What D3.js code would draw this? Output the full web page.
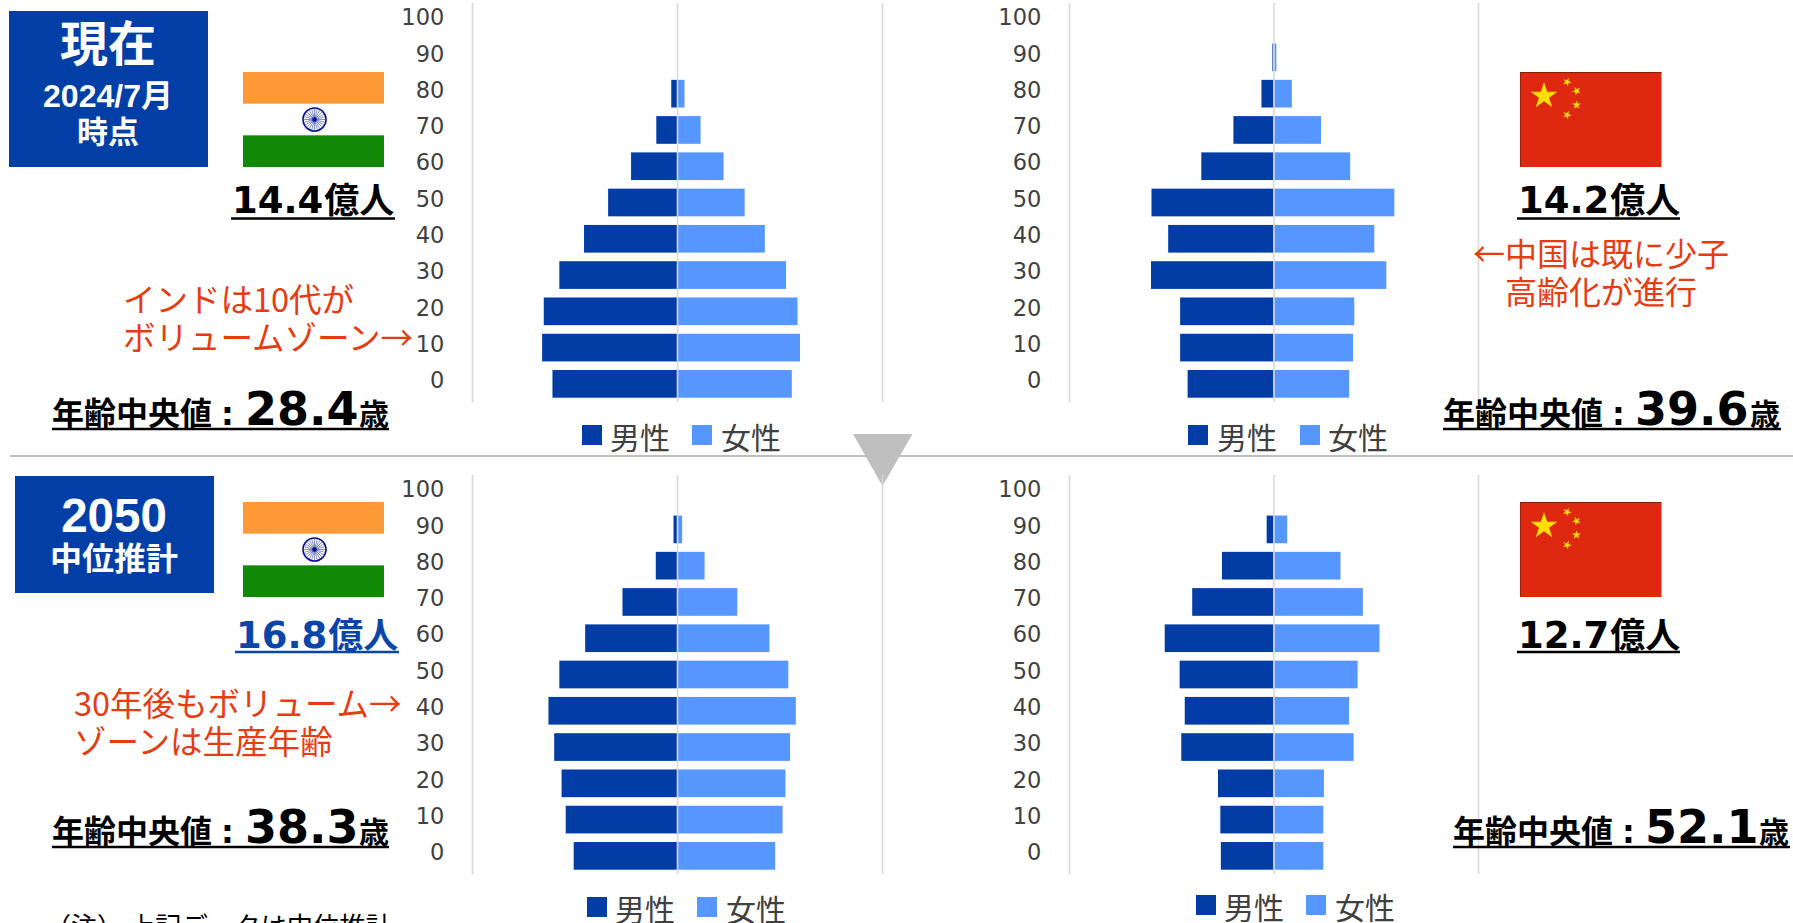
<!DOCTYPE html>
<html lang="ja"><head><meta charset="utf-8">
<script src="https://cdn.jsdelivr.net/npm/d3@7"></script>
<style>
html,body{margin:0;padding:0;background:#fff;overflow:hidden}
svg{display:block}
text{font-family:"DejaVu Sans","Noto Sans CJK JP",sans-serif}
.cjk{font-family:"Noto Sans CJK JP",sans-serif}
.arial{font-family:"Liberation Sans","Noto Sans CJK JP",sans-serif}
</style></head><body>
<svg id="c" width="1793" height="923"></svg>
<script>
const ages = [0,10,20,30,40,50,60,70,80,90,100];
const seriesNames = ["男性","女性"];
const axisMax = 200;
const indiaNowMale   = [121.5,131.6,130,114.8,90.7,67.2,44.8,20.2,5.6,0,0];
const indiaNowFemale = [112,120,117.6,106.4,85.7,66,45.4,23,7.3,0,0];
const chinaNowMale   = [84,91.3,91.3,119.8,103,119.3,70.6,39.2,11.8,1.1,0];
const chinaNowFemale = [74,77.8,79,110.3,98.6,118.2,75,46.5,17.9,2.8,0];
const india2050Male   = [100.8,108.6,112.6,119.8,125.4,114.8,89.6,53.2,20.7,3.4,0];
const india2050Female = [95.8,103,105.8,110.3,115.9,108.6,90.2,58.8,26.9,5,0];
const china2050Male   = [51.5,52,54.3,90.2,86.8,91.8,106.4,79.5,50.4,6.7,0];
const china2050Female = [48.7,48.7,49.3,78.4,73.9,82.3,103.6,87.4,65.5,13.4,0];

const MALE="#023DA5", FEMALE="#5596FF", GRID="#D9D9D9", RED="#E63C12", BOX="#013FA6";
const svg=d3.select("#c");

// divider and triangle
svg.append("line").attr("x1",10).attr("x2",1793).attr("y1",456).attr("y2",456).attr("stroke","#BFBFBF").attr("stroke-width",2);
svg.append("path").attr("d","M853,434L912.5,434L882.5,486Z").attr("fill","#BFBFBF");

function pyramid(o){
  const x=d3.scaleLinear().domain([-axisMax,axisMax]).range([o.left,o.right]);
  const y=d3.scaleBand().domain(ages.map(String).reverse()).range([o.top,o.top+399]).paddingInner(0.237).paddingOuter(0.1185);
  const g=svg.append("g");
  const grid=d3.axisBottom(x).tickValues([-axisMax,axisMax]).tickSize(-399).tickFormat("");
  const gg=g.append("g").attr("transform",`translate(0,${o.top+399})`).call(grid);
  gg.select(".domain").remove();
  gg.selectAll("line").attr("stroke",GRID).attr("stroke-width",1.6);
  g.selectAll(".m").data(o.male).enter().append("rect")
    .attr("x",d=>x(-d)).attr("width",d=>x(0)-x(-d))
    .attr("y",(d,i)=>y(String(ages[i]))).attr("height",y.bandwidth()).attr("fill",MALE);
  g.selectAll(".f").data(o.female).enter().append("rect")
    .attr("x",x(0)).attr("width",d=>x(d)-x(0))
    .attr("y",(d,i)=>y(String(ages[i]))).attr("height",y.bandwidth()).attr("fill",FEMALE);
  const c=d3.axisBottom(x).tickValues([0]).tickSize(-399).tickFormat("");
  const cg=g.append("g").attr("transform",`translate(0,${o.top+399})`).call(c);
  cg.select(".domain").remove();
  cg.selectAll("line").attr("stroke",GRID).attr("stroke-width",1.6);
  const ax=g.append("g").attr("transform",`translate(${o.tick-0.7},-3)`).call(d3.axisLeft(y).tickSize(0).tickPadding(0));
  ax.select(".domain").remove();
  ax.selectAll("text").attr("font-size",22.5).attr("fill","#404040").style("font-family",'"DejaVu Sans"');
  // legend
  [[o.lg[0],o.lg[1],0],[o.lg[2],o.lg[3],1]].forEach(([sx,tx,i])=>{
    g.append("rect").attr("x",sx).attr("y",o.ly).attr("width",20).attr("height",20).attr("fill",i?FEMALE:MALE);
    g.append("text").attr("class","cjk").attr("x",tx).attr("y",o.ly+23.5).attr("font-size",30).attr("fill","#404040").text(seriesNames[i]);
  });
}
pyramid({left:472,right:882,top:3,tick:445,male:indiaNowMale,female:indiaNowFemale,lg:[582,610,692,721],ly:425});
pyramid({left:1069,right:1478,top:3,tick:1042,male:chinaNowMale,female:chinaNowFemale,lg:[1188,1217,1300,1328],ly:425});
pyramid({left:472,right:882,top:475,tick:445,male:india2050Male,female:india2050Female,lg:[587,615,697,726],ly:897});
pyramid({left:1069,right:1478,top:475,tick:1042,male:china2050Male,female:china2050Female,lg:[1196,1224,1306,1335],ly:895});

// period boxes
function t(x,y,s,size,o={}){
  const e=svg.append("text").attr("x",x).attr("y",y).attr("font-size",size).attr("fill",o.fill||"#000")
    .attr("font-weight",o.bold?700:400).attr("text-anchor",o.anchor||"start").attr("dominant-baseline",o.base||"auto").text(s);
  if(o.cls)e.attr("class",o.cls);
  return e;
}
svg.append("rect").attr("x",9).attr("y",11).attr("width",199).attr("height",156).attr("fill",BOX);
t(108,61,"現在",48,{fill:"#fff",bold:1,anchor:"middle",cls:"cjk"});
t(108,106.5,"2024/7月",32,{fill:"#fff",bold:1,anchor:"middle",cls:"arial"});
t(108,143,"時点",31,{fill:"#fff",bold:1,anchor:"middle",cls:"cjk"});
svg.append("rect").attr("x",15).attr("y",476).attr("width",199).attr("height",117).attr("fill",BOX);
t(114,532,"2050",47.5,{fill:"#fff",bold:1,anchor:"middle",cls:"arial"});
t(114,570,"中位推計",32,{fill:"#fff",bold:1,anchor:"middle",cls:"cjk"});

// flags
function india(y0){
  const x0=243,w=141,h=95,cx=x0+w/2+1,cy=y0+h/2;
  svg.append("rect").attr("x",x0).attr("y",y0).attr("width",w).attr("height",h/3).attr("fill","#FF9933");
  svg.append("rect").attr("x",x0).attr("y",y0+2*h/3).attr("width",w).attr("height",h/3).attr("fill","#128807");
  svg.append("circle").attr("cx",cx).attr("cy",cy).attr("r",11.5).attr("fill","#fff").attr("stroke","#000D8C").attr("stroke-width",1.6);
  d3.range(24).forEach(i=>{const a=i*Math.PI/12;
    svg.append("line").attr("x1",cx).attr("y1",cy).attr("x2",cx+11*Math.cos(a)).attr("y2",cy+11*Math.sin(a)).attr("stroke","#3440A8").attr("stroke-width",.6);});
  svg.append("circle").attr("cx",cx).attr("cy",cy).attr("r",2.2).attr("fill","#000D8C");
}
india(72);india(502);
function star(cx,cy,R,rot){
  const pts=d3.range(10).map(i=>{const r=i%2?R*0.382:R,a=-Math.PI/2+rot+i*Math.PI/5;return [cx+r*Math.cos(a),cy+r*Math.sin(a)];});
  svg.append("polygon").attr("points",pts.map(p=>p.join(",")).join(" ")).attr("fill","#FFDE00");
}
function china(y0,h){
  svg.append("rect").attr("x",1520).attr("y",y0).attr("width",141.5).attr("height",h).attr("fill","#DE2910");
  svg.append("rect").attr("x",1520).attr("y",y0).attr("width",141.5).attr("height",1).attr("fill","#8E1A0A");
  svg.append("rect").attr("x",1520).attr("y",y0).attr("width",.8).attr("height",h).attr("fill","#8E1A0A");
  const d=y0-72;
  star(1544,96+d,14,0);
  star(1567,82+d,4.6,.4);star(1576.5,91+d,4.6,.8);star(1576.5,105+d,4.6,0);star(1567,115+d,4.6,.4);
}
china(72,95);china(502,95);

// population labels
function pop(num,x1,x2,base,lineY,color){
  const e=svg.append("text").attr("x",x1+1).attr("y",base).attr("font-size",37).attr("font-weight",700).attr("fill",color);
  e.append("tspan").text(num);
  e.append("tspan").attr("class","cjk").attr("dx",1).attr("font-size",35).text("億人");
  svg.append("line").attr("x1",x1).attr("x2",x2).attr("y1",lineY).attr("y2",lineY).attr("stroke",color).attr("stroke-width",2.6);
}
pop("14.4",231,395,213,218.5,"#000");
pop("14.2",1517,1680,213,218.5,"#000");
pop("16.8",235,399,648,652,"#0A45A8");
pop("12.7",1517,1680,648,652,"#000");

// median labels
function med(num,x,nx,ux,ex,base){
  t(x,base,"年齢中央値",32,{bold:1,cls:"cjk"});
  t(x+169,base,":",32,{bold:1});
  t(nx-1,base,num,46,{bold:1});
  t(ux,base,"歳",30,{bold:1,cls:"cjk"});
  svg.append("line").attr("x1",x).attr("x2",ex).attr("y1",base+4).attr("y2",base+4).attr("stroke","#000").attr("stroke-width",2.4);
}
med("28.4",52,246,359,389,425);
med("39.6",1443,1636,1750,1781,425);
med("38.3",52,246,359,389,843);
med("52.1",1453,1646,1759,1790,843);

// annotations
const red={fill:RED,cls:"cjk",base:"central"};
t(123,297,"インドは10代が",32.5,red);
t(123,335,"ボリュームゾーン→",32.5,red);
t(1473,252,"←中国は既に少子",32,red);
t(1505,290,"高齢化が進行",32,red);
t(74,701,"30年後もボリューム→",32.5,red);
t(74,739,"ゾーンは生産年齢",32.5,red);

// note
t(45,936,"（注）",26,{cls:"cjk",fill:"#000"});
t(129,936,"上記データは中位推計",26.3,{cls:"cjk",fill:"#000"});
</script></body></html>
